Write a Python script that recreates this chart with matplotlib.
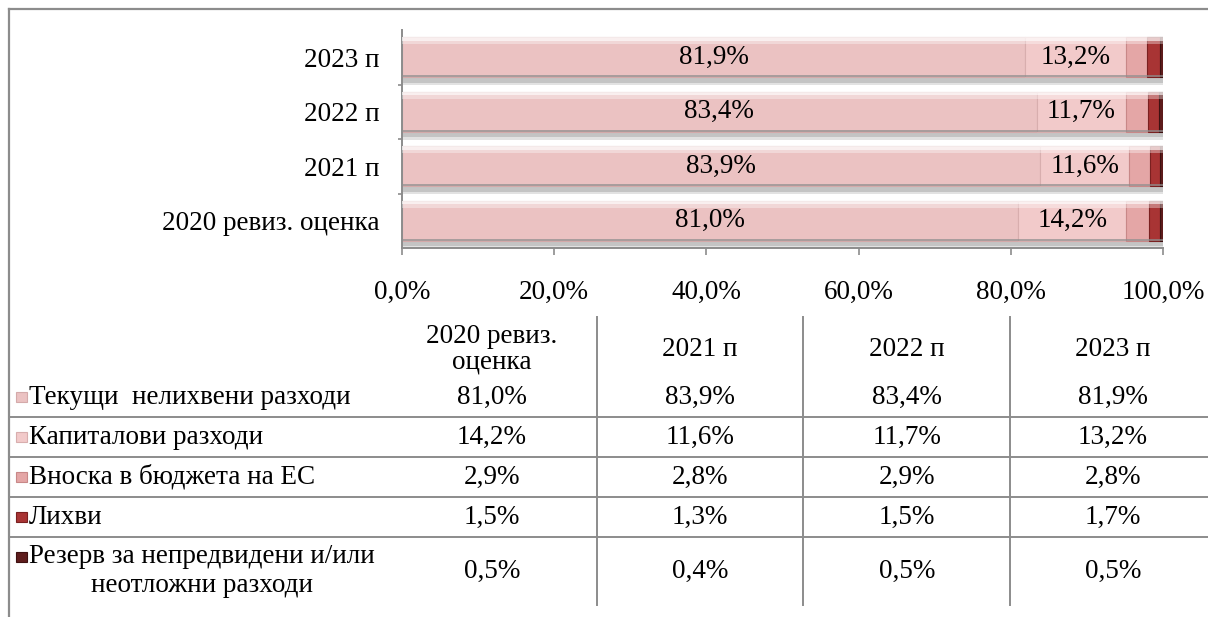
import matplotlib

matplotlib.use("Agg")

import numpy as np
from matplotlib import pyplot as plt
from matplotlib.lines import Line2D
from matplotlib.patches import Rectangle

categories = ["2020 ревиз. оценка", "2021 п", "2022 п", "2023 п"]
table_headers = ["2020 ревиз.\nоценка", "2021 п", "2022 п", "2023 п"]
series_names = [
    "Текущи  нелихвени разходи",
    "Капиталови разходи",
    "Вноска в бюджета на ЕС",
    "Лихви",
    "Резерв за непредвидени и/или\nнеотложни разходи",
]
current_spending = [81.0, 83.9, 83.4, 81.9]
capital_spending = [14.2, 11.6, 11.7, 13.2]
eu_contribution = [2.9, 2.8, 2.9, 2.8]
interest = [1.5, 1.3, 1.5, 1.7]
reserve = [0.5, 0.4, 0.5, 0.5]
x_ticks = [0, 20, 40, 60, 80, 100]

series = [current_spending, capital_spending, eu_contribution, interest, reserve]
colors = ["#EBC2C2", "#F2CACA", "#E4A6A6", "#A83434", "#5E1C1C"]
edge_colors = ["#D4AAAA", "#D8AEAE", "#C88888", "#7A2020", "#3E1010"]
labelled = [True, True, False, False, False]

W, H = 1208, 617
FONT = "Liberation Serif"
FS = 19.5
GRID = "#8C8C8C"


def fx(x):
    return x / W


def fy(y):
    return 1 - y / H


def pct(v):
    return f"{v:.1f}%".replace(".", ",")


fig = plt.figure(figsize=(W / 100, H / 100), dpi=100)
ax = fig.add_axes([fx(402), fy(248), fx(1163) - fx(402), fy(30) - fy(248)])

y = np.arange(len(categories))
height = 0.74
bottom_edge = y - height / 2
total = np.minimum(np.sum(series, axis=0), 100)

# grey shadow strip below each bar
ax.barh(bottom_edge - 0.05, total, height=0.1, left=0,
        color="#C4C4C4", linewidth=0, zorder=1)
ax.barh(bottom_edge - 0.12, total, height=0.05, left=0,
        color="#E2E2E2", linewidth=0, zorder=1)

left = np.zeros(len(categories))
for vals, col, ecol, show in zip(series, colors, edge_colors, labelled):
    vals = np.array(vals)
    ax.barh(y, vals, height=height, left=left, color=col, edgecolor=ecol,
            linewidth=0.8, zorder=2)
    # bevel: white highlight at the top, dark rim at the bottom
    ax.barh(y + height / 2 - 0.035, vals, height=0.07, left=left,
            color="white", alpha=0.75, linewidth=0, zorder=3)
    ax.barh(y + height / 2 - 0.1, vals, height=0.06, left=left,
            color="white", alpha=0.35, linewidth=0, zorder=3)
    ax.barh(bottom_edge + 0.02, vals, height=0.04, left=left,
            color="#8E8E8E", alpha=0.7, linewidth=0, zorder=3)
    if show:
        for yi, l, v in zip(y, left, vals):
            ax.text(l + v / 2, yi, pct(v), ha="center", va="center",
                    fontsize=FS, family=FONT, color="black", zorder=4)
    left = left + vals

ax.set_xlim(0, 100)
ax.set_ylim(-0.5, len(categories) - 0.5)
ax.set_yticks(y)
ax.set_yticklabels(categories, fontsize=FS, family=FONT)
ax.set_yticks(np.arange(len(categories) - 1) + 0.5, minor=True)
ax.tick_params(axis="y", which="major", length=0, pad=16)
ax.tick_params(axis="y", which="minor", length=3, color=GRID, width=1.2)
ax.set_xticks(x_ticks)
ax.set_xticklabels([pct(t) for t in x_ticks], fontsize=FS, family=FONT)
ax.tick_params(axis="x", length=5, color=GRID, width=1.2, pad=18)
for side in ["top", "right"]:
    ax.spines[side].set_visible(False)
for side in ["left", "bottom"]:
    ax.spines[side].set_color(GRID)
    ax.spines[side].set_linewidth(1.4)

# outer frame (top and left edges)
fig.add_artist(Line2D([fx(9), fx(9)], [fy(9), 0], color=GRID, lw=1.6))
fig.add_artist(Line2D([fx(9), 1], [fy(9), fy(9)], color=GRID, lw=1.6))

# data table
col_centers = [492, 700, 907, 1113]
col_lines = [597, 803, 1010]
row_centers = [397, 437, 477, 517, 571]
icon_rows = [397, 437, 477, 517, 557]
row_lines = [417, 457, 497, 537]

for x in col_lines:
    fig.add_artist(Line2D([fx(x), fx(x)], [fy(317), fy(605)], color=GRID, lw=1.4))
for yl in row_lines:
    fig.add_artist(Line2D([fx(9), 1], [fy(yl), fy(yl)], color=GRID, lw=1.4))

for xc, head in zip(col_centers, table_headers):
    fig.text(fx(xc), fy(349), head, ha="center", va="center", fontsize=FS,
             family=FONT, linespacing=1.0)

for ri, (name, vals, col, ecol) in enumerate(zip(series_names, series, colors, edge_colors)):
    yc = row_centers[ri]
    yi = icon_rows[ri]
    fig.add_artist(Rectangle((fx(16), fy(yi + 5)), fx(11), fy(0) - fy(10),
                             facecolor=col, edgecolor=ecol, lw=0.8))
    fig.text(fx(29), fy(yc), name, ha="left", va="center", fontsize=FS,
             family=FONT, multialignment="center", linespacing=1.25)
    for xc, v in zip(col_centers, vals):
        fig.text(fx(xc), fy(yc), pct(v), ha="center", va="center",
                 fontsize=FS, family=FONT)

fig.savefig("out.png", dpi=100)
